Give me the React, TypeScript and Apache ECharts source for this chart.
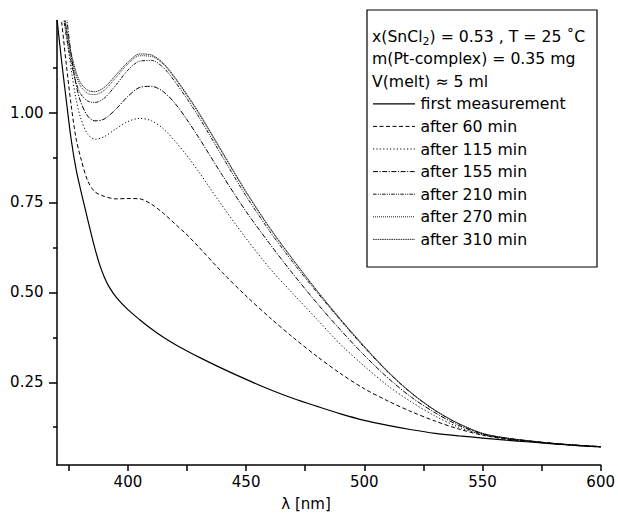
import React, { useEffect, useRef } from 'react';
import * as echarts from 'echarts';

const wavelengths = [370, 372, 374, 376, 378, 380, 383, 386, 390, 395, 400, 405, 410, 415, 420, 425, 430, 440, 450, 460, 470, 480, 490, 500, 510, 520, 530, 540, 550, 560, 570, 580, 590, 600];

const firstWavelengths = [370, 372, 374, 376, 378, 380, 382, 384, 386, 388, 390, 392, 395, 400, 405, 410, 415, 420, 425, 430, 440, 450, 460, 470, 480, 490, 500, 510, 520, 530, 540, 550, 560, 570, 580, 590, 600];
const firstMeasurement = [1.26, 1.14, 1.03, 0.925, 0.845, 0.785, 0.73, 0.675, 0.623, 0.578, 0.543, 0.516, 0.487, 0.452, 0.424, 0.398, 0.375, 0.355, 0.337, 0.32, 0.288, 0.258, 0.23, 0.205, 0.183, 0.162, 0.144, 0.13, 0.118, 0.108, 0.101, 0.095, 0.089, 0.084, 0.079, 0.074, 0.07];
const after60 = [1.36, 1.25, 1.13, 1.02, 0.93, 0.875, 0.81, 0.78, 0.767, 0.76, 0.761, 0.76, 0.745, 0.72, 0.69, 0.66, 0.626, 0.555, 0.49, 0.43, 0.374, 0.322, 0.274, 0.232, 0.198, 0.168, 0.142, 0.12, 0.103, 0.092, 0.085, 0.079, 0.074, 0.07];
const after115 = [1.5, 1.35, 1.22, 1.12, 1.04, 0.985, 0.94, 0.926, 0.933, 0.955, 0.975, 0.984, 0.977, 0.955, 0.92, 0.88, 0.835, 0.74, 0.65, 0.567, 0.495, 0.425, 0.355, 0.295, 0.24, 0.195, 0.156, 0.125, 0.104, 0.093, 0.086, 0.08, 0.075, 0.071];
const after155 = [1.55, 1.40, 1.27, 1.16, 1.08, 1.03, 0.99, 0.977, 0.982, 1.01, 1.045, 1.07, 1.073, 1.058, 1.025, 0.98, 0.93, 0.825, 0.725, 0.635, 0.55, 0.47, 0.395, 0.325, 0.262, 0.208, 0.165, 0.13, 0.106, 0.094, 0.086, 0.08, 0.075, 0.071];
const after210 = [1.40, 1.30, 1.21, 1.14, 1.085, 1.052, 1.032, 1.028, 1.04, 1.077, 1.118, 1.143, 1.145, 1.125, 1.085, 1.038, 0.988, 0.877, 0.768, 0.670, 0.582, 0.5, 0.422, 0.347, 0.278, 0.219, 0.171, 0.134, 0.107, 0.095, 0.087, 0.08, 0.075, 0.071];
const after270 = [1.41, 1.31, 1.225, 1.155, 1.105, 1.073, 1.053, 1.05, 1.062, 1.098, 1.135, 1.158, 1.156, 1.134, 1.094, 1.047, 0.997, 0.887, 0.778, 0.678, 0.589, 0.504, 0.424, 0.349, 0.279, 0.22, 0.172, 0.135, 0.108, 0.095, 0.087, 0.08, 0.075, 0.071];
const after310 = [1.42, 1.32, 1.235, 1.165, 1.115, 1.082, 1.062, 1.058, 1.07, 1.105, 1.14, 1.163, 1.16, 1.137, 1.097, 1.05, 1.0, 0.89, 0.78, 0.68, 0.59, 0.505, 0.425, 0.35, 0.28, 0.22, 0.172, 0.135, 0.108, 0.095, 0.087, 0.08, 0.075, 0.071];

const seriesNames = ['first measurement', 'after 60 min', 'after 115 min', 'after 155 min', 'after 210 min', 'after 270 min', 'after 310 min'];
const seriesX = [firstWavelengths, wavelengths, wavelengths, wavelengths, wavelengths, wavelengths, wavelengths];
const seriesValues = [firstMeasurement, after60, after115, after155, after210, after270, after310];

const headerLines = ['m(Pt-complex) = 0.35 mg', 'V(melt) \u2248 5 ml'];

const xTickValues = [375, 400, 425, 450, 475, 500, 525, 550, 575, 600];
const xLabelValues = [400, 450, 500, 550, 600];
const yMajorValues = [0.25, 0.5, 0.75, 1.0];
const yMinorValues = [0.125, 0.375, 0.625, 0.875, 1.125];

const X_MIN = 370;
const X_MAX = 600;
const Y_MIN = 0.02;
const Y_MAX = 1.256;

const FONT = 'DejaVu Sans';
const FS = 15;
const LFS = 15.7;

const dashes: (number[] | 'solid')[] = [
  'solid',
  [4, 2.5],
  [1.2, 2.2],
  [5, 1.5, 1.2, 1.5],
  [3.5, 1.2, 1, 1.2, 1, 1.2],
  [1, 1],
  [1.6, 0.7],
];
const widths = [1.2, 1, 1, 1, 1, 1, 1];
const colors = ['#000', '#000', '#000', '#000', '#111', '#222', '#333'];

export default function App() {
  const ref = useRef<HTMLDivElement>(null);

  useEffect(() => {
    if (!ref.current) return;
    const chart = echarts.init(ref.current, null, { renderer: 'svg' });

    const canvas = document.createElement('canvas');
    const ctx = canvas.getContext('2d')!;
    ctx.font = `${LFS}px "${FONT}"`;
    const w1 = ctx.measureText('x(SnCl').width;
    ctx.font = `11px "${FONT}"`;
    const w2 = ctx.measureText('2').width;

    const axisLineStyle = { color: '#000', width: 1.5 };
    const textStyle = { color: '#000', fontSize: FS, fontFamily: FONT };

    const series = seriesNames.map((name, i) => ({
      name,
      type: 'line',
      data: seriesX[i].map((w, j) => [w, seriesValues[i][j]]),
      showSymbol: false,
      symbol: 'none',
      smooth: 0.3,
      clip: true,
      lineStyle: { color: colors[i], width: widths[i], type: dashes[i] },
      z: 10 - i,
    }));

    const lx = 372;
    const rowY0 = 36;
    const rowStep = 22.6;
    const graphic: any[] = [];
    graphic.push({
      type: 'rect',
      shape: { x: 367, y: 10, width: 230, height: 257 },
      style: { fill: '#fff', stroke: '#000', lineWidth: 1.2 },
      z: 100,
    });
    graphic.push({
      type: 'text', x: lx, y: rowY0, z: 101,
      style: { text: 'x(SnCl', fill: '#000', fontSize: LFS, fontFamily: FONT, verticalAlign: 'middle' },
    });
    graphic.push({
      type: 'text', x: lx + w1, y: rowY0 + 5, z: 101,
      style: { text: '2', fill: '#000', fontSize: 11, fontFamily: FONT, verticalAlign: 'middle' },
    });
    graphic.push({
      type: 'text', x: lx + w1 + w2, y: rowY0, z: 101,
      style: { text: ') = 0.53 , T = 25 \u02DAC', fill: '#000', fontSize: LFS, fontFamily: FONT, verticalAlign: 'middle' },
    });
    headerLines.forEach((t, k) => {
      graphic.push({
        type: 'text', x: lx, y: rowY0 + rowStep * (k + 1), z: 101,
        style: { text: t, fill: '#000', fontSize: LFS, fontFamily: FONT, verticalAlign: 'middle' },
      });
    });
    seriesNames.forEach((name, i) => {
      const cy = rowY0 + rowStep * (i + 3);
      graphic.push({
        type: 'line', z: 101,
        shape: { x1: 373, y1: cy, x2: 415, y2: cy },
        style: { stroke: colors[i], lineWidth: widths[i], lineDash: dashes[i] === 'solid' ? null : dashes[i] },
      });
      graphic.push({
        type: 'text', x: 420.5, y: cy, z: 101,
        style: { text: name, fill: '#000', fontSize: LFS, fontFamily: FONT, verticalAlign: 'middle' },
      });
    });
    graphic.push({
      type: 'text', x: 306, y: 504, z: 101,
      style: { text: '\u03BB [nm]', fill: '#000', fontSize: FS, fontFamily: FONT, verticalAlign: 'middle', align: 'center' },
    });

    const option: any = {
      animation: false,
      backgroundColor: '#fff',
      grid: { left: 57, right: 17, top: 20.5, bottom: 50, containLabel: false },
      xAxis: {
        type: 'value', min: X_MIN, max: X_MAX,
        axisLine: { show: true, onZero: false, lineStyle: axisLineStyle },
        axisTick: { show: true, length: 6, customValues: xTickValues, lineStyle: axisLineStyle },
        axisLabel: { customValues: xLabelValues, margin: 9, ...textStyle },
        splitLine: { show: false },
      },
      yAxis: [
        {
          type: 'value', min: Y_MIN, max: Y_MAX, position: 'left',
          axisLine: { show: true, onZero: false, lineStyle: axisLineStyle },
          axisTick: { show: true, length: 8, customValues: yMajorValues, lineStyle: axisLineStyle },
          axisLabel: { customValues: yMajorValues, margin: 13.5, formatter: (v: number) => v.toFixed(2), ...textStyle },
          splitLine: { show: false },
        },
        {
          type: 'value', min: Y_MIN, max: Y_MAX, position: 'left', offset: 0,
          axisLine: { show: false },
          axisTick: { show: true, length: 4, customValues: yMinorValues, lineStyle: axisLineStyle },
          axisLabel: { show: false },
          splitLine: { show: false },
        },
      ],
      series,
      graphic,
    };
    chart.setOption(option);
    return () => chart.dispose();
  }, []);

  return (
    <div
      ref={ref}
      style={{ position: 'fixed', left: 0, top: 0, width: 618, height: 515, background: '#fff' }}
    />
  );
}
